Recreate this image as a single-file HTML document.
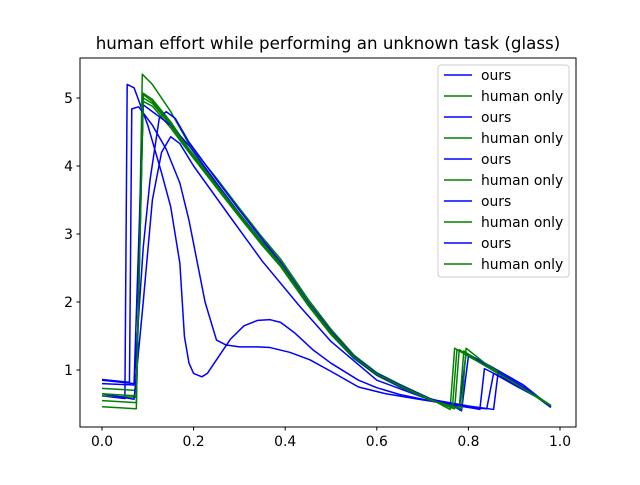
<!DOCTYPE html>
<html><head><meta charset="utf-8"><style>
body{margin:0;background:#fff}
svg{font-family:"DejaVu Sans","Liberation Sans",sans-serif}
</style></head><body>
<svg id="chart" width="640" height="480">
<rect width="640" height="480" fill="#fff"/>
<text x="328" y="49" font-size="16.7" text-anchor="middle">human effort while performing an unknown task (glass)</text>
<g id="series"></g>
<rect x="80" y="58" width="496" height="369" fill="none" stroke="#000" stroke-width="1"/>
<g id="axes"></g>
<g id="legend"></g>
</svg>
<script>
const xTicks=[0,0.2,0.4,0.6,0.8,1.0];
const xTickLabels=["0.0","0.2","0.4","0.6","0.8","1.0"];
const yTicks=[1,2,3,4,5];
const yTickLabels=["1","2","3","4","5"];
const seriesLabels=["ours","human only","ours","human only","ours","human only","ours","human only","ours","human only"];
const oursA_x=[0,0.05,0.055,0.07,0.1,0.13,0.15,0.17,0.18,0.19,0.2,0.218,0.23,0.25,0.28,0.31,0.34,0.367,0.39,0.42,0.46,0.5,0.56,0.6,0.65,0.7,0.75,0.8,0.84,0.855,0.9,0.95,0.98];
const oursA_y=[0.62,0.58,5.2,5.15,4.6,3.9,3.4,2.57,1.49,1.1,0.95,0.9,0.95,1.15,1.45,1.65,1.73,1.74,1.7,1.55,1.3,1.1,0.85,0.74,0.64,0.57,0.5,0.45,0.43,0.95,0.78,0.6,0.45];
const oursB_x=[0,0.06,0.065,0.08,0.11,0.14,0.17,0.19,0.225,0.25,0.27,0.3,0.34,0.367,0.41,0.454,0.5,0.56,0.62,0.7,0.76,0.8,0.825,0.835,0.9,0.95,0.98];
const oursB_y=[0.86,0.82,4.84,4.87,4.6,4.25,3.75,3.2,2.0,1.44,1.37,1.34,1.34,1.33,1.26,1.15,0.98,0.75,0.65,0.56,0.5,0.45,0.42,1.02,0.8,0.6,0.46];
const oursC_x=[0,0.07,0.09,0.105,0.125,0.14,0.16,0.19,0.25,0.3,0.35,0.389,0.45,0.5,0.55,0.6,0.65,0.716,0.77,0.78,0.795,0.85,0.92,0.98];
const oursC_y=[0.8,0.78,2.8,3.8,4.7,4.8,4.7,4.35,3.8,3.35,2.92,2.6,2.0,1.57,1.2,0.95,0.78,0.58,0.48,0.42,1.25,1.05,0.78,0.46];
const oursD_x=[0,0.07,0.09,0.11,0.13,0.15,0.17,0.2,0.28,0.35,0.43,0.5,0.6,0.7,0.76,0.785,0.8,0.86,0.92,0.98];
const oursD_y=[0.65,0.57,2.0,3.5,4.2,4.43,4.33,4.0,3.25,2.6,1.95,1.42,0.85,0.6,0.5,0.4,1.2,1.0,0.75,0.46];
const oursE_x=[0,0.07,0.09,0.11,0.15,0.19,0.25,0.3,0.35,0.389,0.45,0.5,0.55,0.6,0.65,0.716,0.8,0.855,0.865,0.92,0.98];
const oursE_y=[0.85,0.8,4.9,4.8,4.6,4.3,3.75,3.3,2.88,2.58,1.98,1.55,1.18,0.93,0.76,0.57,0.47,0.42,0.97,0.75,0.45];
const humanA_x=[0,0.075,0.088,0.11,0.15,0.19,0.25,0.3,0.35,0.389,0.45,0.5,0.55,0.6,0.65,0.716,0.76,0.77,0.84,0.91,0.98];
const humanA_y=[0.46,0.43,5.35,5.2,4.8,4.32,3.82,3.38,2.95,2.64,2.04,1.6,1.22,0.96,0.79,0.58,0.42,1.32,1.05,0.78,0.48];
const humanB_x=[0,0.075,0.09,0.11,0.15,0.19,0.25,0.3,0.35,0.389,0.45,0.5,0.55,0.6,0.65,0.716,0.77,0.78,0.84,0.91,0.98];
const humanB_y=[0.62,0.6,5.07,4.98,4.65,4.25,3.74,3.3,2.88,2.58,1.99,1.56,1.19,0.94,0.77,0.57,0.43,1.3,1.05,0.77,0.47];
const humanC_x=[0,0.075,0.09,0.11,0.15,0.19,0.25,0.3,0.35,0.389,0.45,0.5,0.55,0.6,0.65,0.716,0.78,0.79,0.84,0.91,0.98];
const humanC_y=[0.73,0.7,5.0,4.92,4.6,4.22,3.71,3.27,2.85,2.55,1.97,1.54,1.18,0.93,0.76,0.56,0.44,1.28,1.05,0.77,0.47];
const humanD_x=[0,0.075,0.09,0.11,0.15,0.19,0.25,0.3,0.35,0.389,0.45,0.5,0.55,0.6,0.65,0.716,0.785,0.795,0.84,0.91,0.98];
const humanD_y=[0.55,0.52,4.95,4.88,4.56,4.2,3.68,3.25,2.83,2.53,1.95,1.52,1.17,0.92,0.75,0.56,0.43,1.32,1.08,0.79,0.48];
const humanE_x=[0,0.075,0.09,0.11,0.15,0.19,0.25,0.3,0.35,0.389,0.45,0.5,0.55,0.6,0.65,0.716,0.765,0.775,0.84,0.91,0.98];
const humanE_y=[0.65,0.62,5.05,4.95,4.62,4.24,3.72,3.29,2.87,2.57,1.98,1.55,1.19,0.94,0.77,0.57,0.44,1.3,1.05,0.77,0.47];

const sx=v=>102+v*458, sy=v=>438-v*68;
const NS="http://www.w3.org/2000/svg";
const ser=[[oursA_x,oursA_y,"blue"],[humanA_x,humanA_y,"green"],[oursB_x,oursB_y,"blue"],[humanB_x,humanB_y,"green"],[oursC_x,oursC_y,"blue"],[humanC_x,humanC_y,"green"],[oursD_x,oursD_y,"blue"],[humanD_x,humanD_y,"green"],[oursE_x,oursE_y,"blue"],[humanE_x,humanE_y,"green"]];
const g=document.getElementById("series");
ser.forEach((s,i)=>{
 const p=document.createElementNS(NS,"polyline");
 p.setAttribute("points",s[0].map((x,j)=>sx(x)+","+sy(s[1][j])).join(" "));
 p.setAttribute("fill","none");p.setAttribute("stroke",s[2]);p.setAttribute("stroke-width","1.5");
 p.setAttribute("stroke-linejoin","round");
 
 
 g.appendChild(p);
});
const ax=document.getElementById("axes");
xTicks.forEach((t,i)=>{
 const l=document.createElementNS(NS,"line");
 l.setAttribute("x1",sx(t));l.setAttribute("x2",sx(t));l.setAttribute("y1",427);l.setAttribute("y2",430.5);l.setAttribute("stroke","#000");
 
 
 ax.appendChild(l);
 const tx=document.createElementNS(NS,"text");
 tx.setAttribute("x",sx(t));tx.setAttribute("y",446);tx.setAttribute("font-size","13.9");tx.setAttribute("text-anchor","middle");
 tx.textContent=xTickLabels[i];
 
 
 ax.appendChild(tx);
});
yTicks.forEach((t,i)=>{
 const l=document.createElementNS(NS,"line");
 l.setAttribute("x1",76.5);l.setAttribute("x2",80);l.setAttribute("y1",sy(t));l.setAttribute("y2",sy(t));l.setAttribute("stroke","#000");
 
 
 ax.appendChild(l);
 const tx=document.createElementNS(NS,"text");
 tx.setAttribute("x",73);tx.setAttribute("y",sy(t)+5);tx.setAttribute("font-size","13.9");tx.setAttribute("text-anchor","end");
 tx.textContent=yTickLabels[i];
 
 
 ax.appendChild(tx);
});
const lg=document.getElementById("legend");
const box=document.createElementNS(NS,"rect");
box.setAttribute("x",438);box.setAttribute("y",65);box.setAttribute("width",131);box.setAttribute("height",212);box.setAttribute("rx",3);
box.setAttribute("fill","#fff");box.setAttribute("fill-opacity","0.8");box.setAttribute("stroke","#ccc");


lg.appendChild(box);
seriesLabels.forEach((lab,i)=>{
 const y=75+i*21;
 const l=document.createElementNS(NS,"line");
 l.setAttribute("x1",444);l.setAttribute("x2",472);l.setAttribute("y1",y);l.setAttribute("y2",y);
 l.setAttribute("stroke",i%2?"green":"blue");l.setAttribute("stroke-width","1.5");
 
 
 lg.appendChild(l);
 const t=document.createElementNS(NS,"text");
 t.setAttribute("x",481);t.setAttribute("y",y+5);t.setAttribute("font-size","13.9");t.textContent=lab;
 
 
 lg.appendChild(t);
});
</script>
</body></html>
